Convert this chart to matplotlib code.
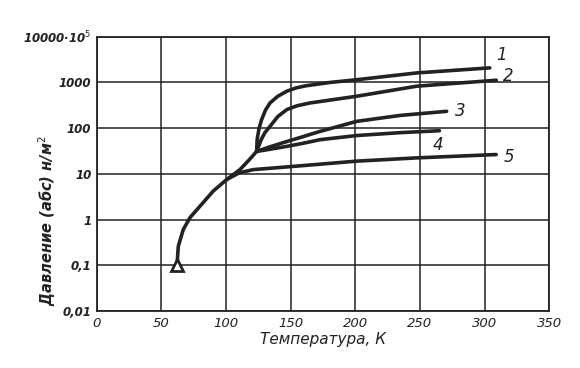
import matplotlib
matplotlib.use("Agg")
import matplotlib.pyplot as plt

# ---- data ----
trunk_T = [62, 63, 66.8, 72, 79.7, 90, 100.4, 110.7, 118, 123.6]
trunk_p = [0.1, 0.26, 0.6, 1.1, 1.95, 4.2, 7.5, 12.4, 20.5, 31]

c1_T = [123.6, 124, 125.5, 127.5, 130.5, 134, 140, 147, 154, 162, 180, 201, 247.5, 304]
c1_p = [31, 56, 100, 155, 250, 357, 500, 645, 760, 850, 1000, 1150, 1620, 2090]

c2_T = [123.6, 127, 130, 134, 140, 147, 155, 165, 201, 247.5, 309]
c2_p = [31, 55, 80, 110, 180, 256, 310, 357, 500, 830, 1120]

c3_T = [123.6, 135, 147, 160, 172.6, 201, 234.5, 270.6]
c3_p = [31, 40, 51, 66, 85, 141, 190, 234]

c4_T = [123.6, 135, 147, 160, 172.6, 201, 235, 265]
c4_p = [31, 35, 40, 47, 56, 69, 80, 88]

c5_T = [100.4, 110, 121, 147, 201, 247.5, 309]
c5_p = [7.5, 10.5, 12.4, 14.2, 19, 22.4, 26.5]

curve_labels = ["1", "2", "3", "4", "5"]
label_T = [309, 314, 277, 260, 315]
label_p = [4000, 1400, 240, 42, 23]

x_ticks = [0, 50, 100, 150, 200, 250, 300, 350]
x_ticklabels = ["0", "50", "100", "150", "200", "250", "300", "350"]
y_ticks = [0.01, 0.1, 1, 10, 100, 1000, 10000]
y_ticklabels = ["0,01", "0,1", "1", "10", "100", "1000", "10000·10$^5$"]

# ---- figure ----
fig = plt.figure(figsize=(5.8, 3.68), dpi=100)
ax = fig.add_axes([0.167, 0.155, 0.78, 0.745])
ink = "#222222"
font = dict(family="DejaVu Sans", style="italic")

ax.set_yscale("log")
ax.set_xlim(0, 350)
ax.set_ylim(0.01, 10000)

ax.grid(True, which="major", color=ink, lw=1.1)
ax.minorticks_off()
for s in ax.spines.values():
    s.set_color(ink)
    s.set_linewidth(1.3)

lw = 2.6
for T, p in [(trunk_T, trunk_p), (c1_T, c1_p), (c2_T, c2_p),
             (c3_T, c3_p), (c4_T, c4_p), (c5_T, c5_p)]:
    ax.plot(T, p, color=ink, lw=lw, solid_capstyle="round", solid_joinstyle="round")

ax.plot([trunk_T[0]], [trunk_p[0]], marker="^", ms=9, mfc="white", mec=ink, mew=2)

for lab, T, p in zip(curve_labels, label_T, label_p):
    ax.text(T, p, lab, fontsize=12, color=ink, ha="left", va="center", **font)

ax.set_xticks(x_ticks)
ax.set_xticklabels(x_ticklabels, fontsize=9.5, color=ink, **font)
ax.set_yticks(y_ticks)
ax.set_yticklabels(y_ticklabels, fontsize=8.5, color=ink, fontweight="bold", **font)
ax.tick_params(length=0, pad=4)

ax.set_xlabel("Температура, К", fontsize=11, color=ink, labelpad=2, **font)
ax.set_ylabel("Давление (абс) н/м$^2$", fontsize=10.5, color=ink,
              fontweight="bold", **font)
ax.yaxis.set_label_coords(-0.085, 0.33)

fig.savefig("out.png", dpi=100, facecolor="white")
